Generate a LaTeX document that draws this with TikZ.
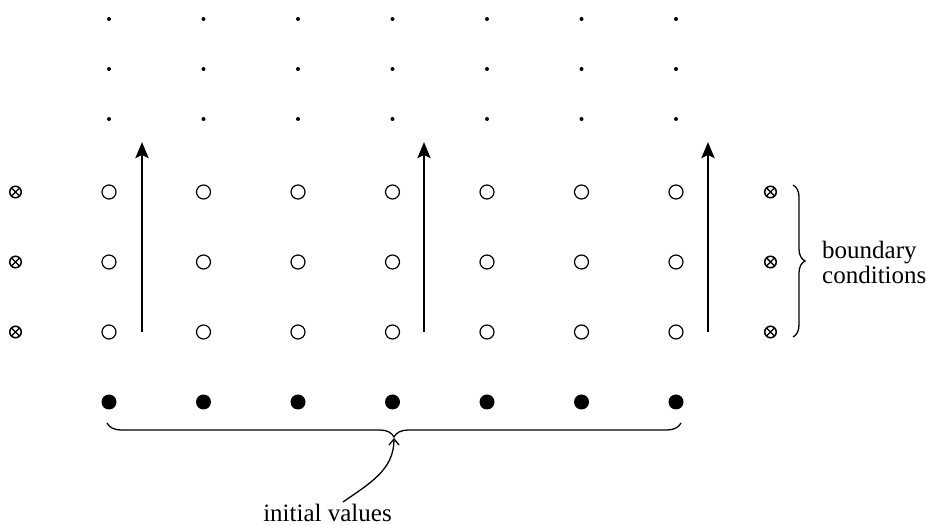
\documentclass[tikz,border=0pt]{standalone}
\usepackage{fontspec}
\setmainfont{Liberation Serif}
\usetikzlibrary{arrows.meta,decorations.pathreplacing}
\begin{document}
\begin{tikzpicture}[x=1pt,y=1pt,
  smalldot/.style={circle,fill=black,inner sep=0pt,minimum size=4pt},
  opendot/.style={circle,draw=black,line width=1.2pt,inner sep=0pt,minimum size=14pt},
  fulldot/.style={circle,fill=black,inner sep=0pt,minimum size=15pt},
  bcdot/.style={circle,draw=black,line width=1.5pt,inner sep=0pt,minimum size=11.5pt,
     path picture={\draw[line width=1.4pt] (path picture bounding box.north west) -- (path picture bounding box.south east) (path picture bounding box.north east) -- (path picture bounding box.south west);}},
  timearrow/.style={line width=2.8pt,-{Stealth[length=16pt,width=13pt,inset=3pt]}},
  bracestyle/.style={decorate,line width=1.3pt},
  lbl/.style={font=\fontsize{25}{25}\selectfont,inner sep=0pt},
  curvearrow/.style={line width=1.3pt,-{Straight Barb[length=6pt,width=10pt]}}
]
\useasboundingbox (0,0) rectangle (927,525);
% interior grid
\foreach \i in {1,...,7} {
  \pgfmathsetmacro\xx{109+94.5*(\i-1)}
  \foreach \j/\yy in {1/506,2/456,3/406} {\node[smalldot] (s\i\j) at (\xx,\yy) {};}
  \foreach \j/\yy in {1/333,2/263,3/193} {\node[opendot] (o\i\j) at (\xx,\yy) {};}
  \node[fulldot] (f\i) at (\xx,123) {};
}
% boundary points
\foreach \j/\yy in {1/333,2/263,3/193} {
  \node[bcdot] (bl\j) at (15.5,\yy) {};
  \node[bcdot] (br\j) at (770.5,\yy) {};
}
% time-marching arrows
\foreach \k/\ax in {1/142,2/424,3/708} {
  \coordinate (ab\k) at (\ax,193);
  \coordinate (at\k) at (\ax,383);
  \draw[timearrow] (ab\k) -- (at\k);
}
% right brace and label
\coordinate (rbTop) at (793,340);
\coordinate (rbBot) at (793,188);
\draw[bracestyle,decoration={brace,amplitude=12pt}] (rbTop) -- (rbBot);
\node[lbl,align=left,anchor=west] (bc) at (822,262.5) {boundary\\conditions};
% bottom brace and label
\coordinate (bbR) at (681,102);
\coordinate (bbL) at (107,102);
\draw[bracestyle,decoration={brace,amplitude=14pt}] (bbR) -- (bbL);
\coordinate (btip) at (394,87);
\node[lbl,anchor=base] (iv) at (327.5,3) {initial values};
\coordinate (ivs) at (343,23);
\draw[curvearrow] (ivs) to[out=35,in=-90] (btip);
\end{tikzpicture}
\end{document}
